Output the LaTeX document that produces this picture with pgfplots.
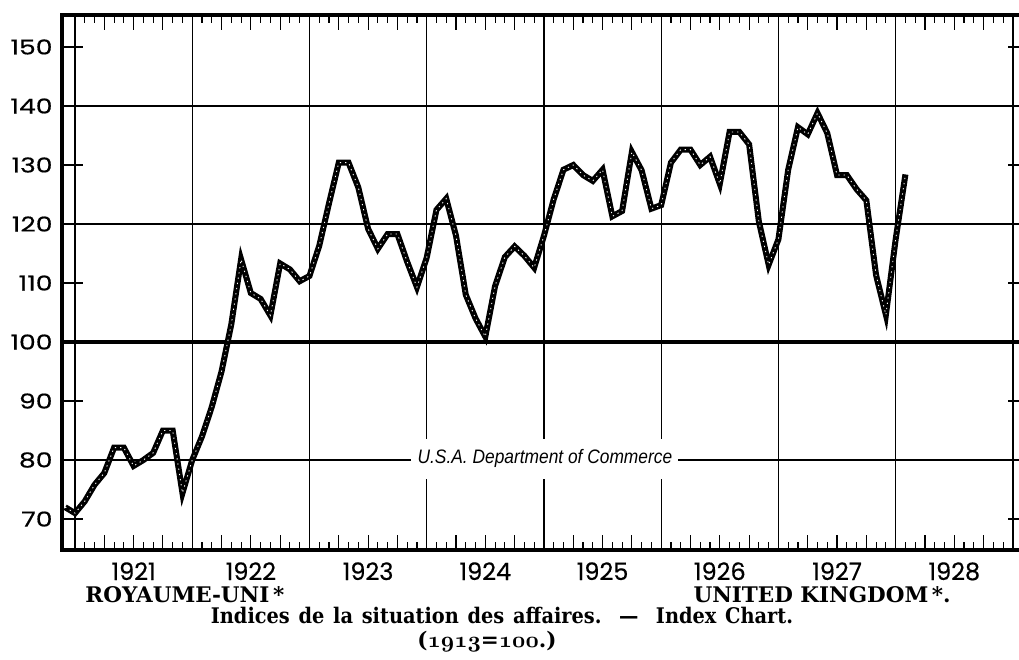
\documentclass[border=0pt]{standalone}
\usepackage{fontspec}
\setmainfont{DejaVu Serif}
\newfontfamily\widefont{DejaVu Serif}[WordSpace=1.3, FakeStretch=0.9, Ligatures=TeX]
\newfontfamily\ytickfont{Poppins}[FakeStretch=1.3, FakeBold=0.5]
\newfontfamily\yearfont{Poppins}[FakeBold=0.4]
\newfontfamily\commfont{Liberation Sans}[FakeStretch=0.89]
\usepackage{pgfplots}
\pgfplotsset{compat=1.18}
\newcommand{\osf}[1]{{\usefont{OML}{cmm}{b}{it}#1}}

\begin{document}
\begin{tikzpicture}
\path[use as bounding box] (-24.8pt,-43.6pt) rectangle (382.8pt,220pt);
\begin{axis}[
  at={(0,0)}, anchor=south west,
  scale only axis, width=385.05pt, height=214pt,
  xmin=-1.33, xmax=97.2, ymin=64.75, ymax=155.42,
  clip=false,
  axis line style={line width=1.8pt},
  tick align=inside,
  tick style={black, line width=0.45pt},
  major tick length=6pt, minor tick length=3.2pt,
  % x in months from Jan 1921; quarters carry the long ticks
  xtick={3,6,9,15,18,21,27,30,33,39,42,45,51,54,57,63,66,69,75,78,81,87,90,93},
  xticklabels={,1921,,,1922,,,1923,,,1924,,,1925,,,1926,,,1927,,,1928,},
  minor xtick={0,1,...,96},
  extra x ticks={0,12,...,96}, extra x tick labels={},
  extra x tick style={grid=major},
  xticklabel style={font=\yearfont\fontsize{9.6}{10}\selectfont, anchor=base, inner sep=0pt, yshift=-12pt},
  ytick={80,100,120,140}, yticklabels={80,100,120,140},
  ymajorgrids,
  extra y ticks={70,90,110,130,150}, extra y tick labels={70,90,110,130,150},
  extra y tick style={grid=none, major tick length=8.4pt},
  ytick pos=left,
  yticklabel style={font=\ytickfont\fontsize{8.2}{9}\selectfont, inner sep=0pt, xshift=-3.6pt},
  major grid style={black, line width=0.5pt},
]
\draw[line width=1.6pt] (axis cs:-1.33,100) -- (axis cs:97.2,100);
% short ticks on the right-hand line
\draw[line width=0.45pt] (axis cs:95.5,70) -- (axis cs:96.6,70);
\draw[line width=0.45pt] (axis cs:95.5,90) -- (axis cs:96.6,90);
\draw[line width=0.45pt] (axis cs:95.5,110) -- (axis cs:96.6,110);
\draw[line width=0.45pt] (axis cs:95.5,130) -- (axis cs:96.6,130);
\draw[line width=0.45pt] (axis cs:95.5,150) -- (axis cs:96.6,150);

\node[fill=white, inner sep=0pt, minimum width=106.8pt, minimum height=16pt,
      font=\commfont\itshape\fontsize{7.8}{8}\selectfont] at (axis cs:48.1,80.2) {U.S.A. Department of Commerce};

\addplot[black, line width=2.4pt, line join=miter,
  postaction={draw=white, line width=0.35pt, dash pattern=on 0.5pt off 1.6pt}] coordinates {
(-1,72) (0,71) (1,73) (2,75.8) (3,77.8) (4,82.1) (5,82.1) (6,79) (7,80) (8,81.2) (9,85) (10,85) (11,74.4)
(12,80) (13,84) (14,89) (15,95) (16,103) (17,114) (18,108.3) (19,107.3) (20,104.5) (21,113.3) (22,112.3) (23,110.3)
(24,111.2) (25,116.3) (26,123.5) (27,130.4) (28,130.4) (29,126.2) (30,119.2) (31,115.8) (32,118.3) (33,118.3) (34,113.6) (35,109.3)
(36,114.3) (37,122.4) (38,124.3) (39,118) (40,108) (41,104) (42,100.9) (43,109.5) (44,114.4) (45,116.2) (46,114.6) (47,112.6)
(48,118) (49,124.2) (50,129.2) (51,130) (52,128.3) (53,127.3) (54,129.2) (55,121.3) (56,122.2) (57,132.2) (58,129.1) (59,122.6)
(60,123.2) (61,130.4) (62,132.6) (63,132.6) (64,130) (65,131.4) (66,126.8) (67,135.6) (68,135.6) (69,133.5) (70,120.4) (71,113.1)
(72,117.4) (73,129.2) (74,136.4) (75,135.2) (76,138.8) (77,135.4) (78,128.3) (79,128.3) (80,125.9) (81,124) (82,111.3) (83,104.6)
(84,117.4) (85,128.4)
};
\end{axis}

\begin{scope}[font=\bfseries\fontsize{8.6}{10}\selectfont]
\node[anchor=base west, inner sep=0pt] at (9.2pt,-20.8pt) {ROYAUME-UNI\,*};
\node[anchor=base west, inner sep=0pt] at (252.4pt,-20.8pt) {UNITED KINGDOM\,*.};
\node[anchor=base, inner sep=0pt, font=\widefont\bfseries\fontsize{8.6}{10}\selectfont] at (176pt,-29.4pt) {Indices de la situation des affaires.\ \ —\ \ Index Chart.};
\node[anchor=base, inner sep=0pt] at (170pt,-38.8pt) {(\osf{1913}=\osf{100}.)};
\end{scope}
\end{tikzpicture}
\end{document}
